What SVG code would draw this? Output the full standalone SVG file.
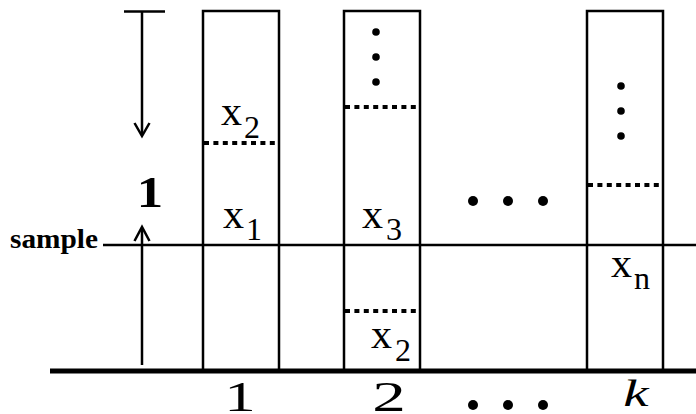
<svg xmlns="http://www.w3.org/2000/svg" width="696" height="414" viewBox="0 0 696 414">
  <style>
    .box { fill: none; stroke: #000; stroke-width: 2.5; }
    .ln { stroke: #000; stroke-width: 2.5; fill: none; }
    .dot { stroke: #000; stroke-width: 4; stroke-dasharray: 5 4.4; fill: none; }
    .x { font-size: 42px; fill: #000; }
    .sub { font-size: 32px; fill: #000; }
    .pt { fill: #000; }
  </style>
  <rect x="0" y="0" width="696" height="414" fill="#fff"/>

  <g font-family="'Liberation Serif', 'Times New Roman', serif">
  <g id="axes">
    <line class="ln" x1="103" y1="245" x2="696" y2="245"/>
    <line x1="50" y1="371" x2="696" y2="371" stroke="#000" stroke-width="5"/>
    <text x="10" y="248" font-size="27" font-weight="bold" textLength="88" lengthAdjust="spacingAndGlyphs">sample</text>
  </g>

  <g id="connectors">
    <line class="ln" x1="124" y1="11.5" x2="165" y2="11.5"/>
    <line class="ln" x1="142" y1="11" x2="142" y2="135"/>
    <polyline class="ln" points="134.5,123 142,136 149.5,123"/>
    <line class="ln" x1="142" y1="365" x2="142" y2="228"/>
    <polyline class="ln" points="134.5,241 142,227 149.5,241"/>
    <text font-size="44" font-weight="bold" text-anchor="middle" transform="translate(150,207) scale(1.2,1)">1</text>
  </g>

  <g id="bin1">
    <rect class="box" x="203" y="11" width="76" height="360"/>
    <line class="dot" x1="204" y1="143" x2="278" y2="143"/>
    <text class="x" x="221" y="125">x</text><text class="sub" x="244" y="138">2</text>
    <text class="x" x="223" y="228">x</text><text class="sub" x="246" y="240">1</text>
  </g>

  <g id="bin2">
    <rect class="box" x="344" y="11" width="76" height="360"/>
    <circle class="pt" cx="376" cy="32" r="3.8"/>
    <circle class="pt" cx="376" cy="57" r="3.8"/>
    <circle class="pt" cx="376" cy="82" r="3.8"/>
    <line class="dot" x1="345" y1="107" x2="419" y2="107"/>
    <text class="x" x="362" y="228">x</text><text class="sub" x="386" y="240">3</text>
    <line class="dot" x1="345" y1="311" x2="419" y2="311"/>
    <text class="x" x="371" y="348">x</text><text class="sub" x="395" y="361">2</text>
  </g>

  <g id="ellipsis">
    <circle class="pt" cx="473" cy="201" r="5"/>
    <circle class="pt" cx="508" cy="201" r="5"/>
    <circle class="pt" cx="543" cy="201" r="5"/>
  </g>

  <g id="bink">
    <rect class="box" x="587" y="11" width="76" height="360"/>
    <circle class="pt" cx="621" cy="86" r="3.8"/>
    <circle class="pt" cx="621" cy="111" r="3.8"/>
    <circle class="pt" cx="621" cy="136" r="3.8"/>
    <line class="dot" x1="588" y1="185" x2="662" y2="185"/>
    <text class="x" x="611" y="277">x</text><text class="sub" x="634" y="289">n</text>
  </g>

  <g id="bottom-labels">
    <text font-size="42" text-anchor="middle" transform="translate(240,411) scale(1.5,1)">1</text>
    <text font-size="42" text-anchor="middle" transform="translate(389,411) scale(1.6,1)">2</text>
    <circle class="pt" cx="473" cy="405" r="5"/>
    <circle class="pt" cx="508" cy="405" r="5"/>
    <circle class="pt" cx="543" cy="405" r="5"/>
    <text font-size="38" font-style="italic" text-anchor="middle" transform="translate(636,406) scale(1.5,1)">k</text>
  </g>
  </g>
</svg>
